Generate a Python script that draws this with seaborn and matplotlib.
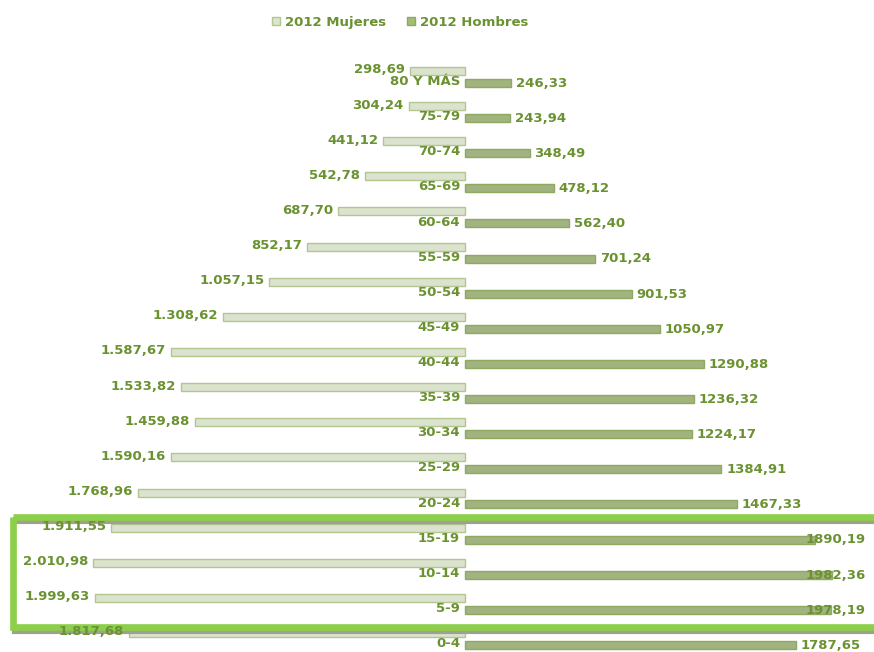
import pandas as pd
import numpy as np
import matplotlib
matplotlib.use('Agg')
import matplotlib.pyplot as plt
import matplotlib.patches as mpatches
import seaborn as sns

# Datos (miles de personas, 2012)
edades = ['80 Y MÁS', '75-79', '70-74', '65-69', '60-64', '55-59', '50-54', '45-49',
          '40-44', '35-39', '30-34', '25-29', '20-24', '15-19', '10-14', '5-9', '0-4']
mujeres = [298.69, 304.24, 441.12, 542.78, 687.70, 852.17, 1057.15, 1308.62,
           1587.67, 1533.82, 1459.88, 1590.16, 1768.96, 1911.55, 2010.98, 1999.63, 1817.68]
hombres = [246.33, 243.94, 348.49, 478.12, 562.40, 701.24, 901.53, 1050.97,
           1290.88, 1236.32, 1224.17, 1384.91, 1467.33, 1890.19, 1982.36, 1978.19, 1787.65]
series = ['2012 Mujeres', '2012 Hombres']
resaltadas = ['15-19', '10-14', '5-9']

# Tabla larga para seaborn (mujeres a la izquierda)
df = pd.DataFrame({
    'edad': edades * 2,
    'valor': [-v for v in mujeres] + hombres,
    'sexo': [series[0]] * len(edades) + [series[1]] * len(edades),
})

sns.set_theme(style='white')
plt.rcParams['font.family'] = ['DejaVu Sans']

verde_texto = '#6a9230'
col_muj = '#dce6cc'
col_hom = '#a4bc76'

fig = plt.figure(figsize=(8.74, 6.52), dpi=100)
ax = fig.add_axes([0, 0, 1, 1])

sns.barplot(data=df, x='valor', y='edad', hue='sexo', order=edades, hue_order=series,
            orient='h', palette=[col_muj, col_hom], width=0.68, gap=0.33,
            linewidth=1, edgecolor='#b2c690', legend=False, ax=ax)
n = len(edades)
for p in ax.patches[n:]:
    p.set_edgecolor('#8fa862')

ax.set_xlim(-2513, 2210)
ax.set_ylim(16.37, -2.19)
ax.set_axis_off()

for i, (m, h) in enumerate(zip(mujeres, hombres)):
    # etiqueta de edad
    ax.text(-27, i + 0.13, edades[i], ha='right', va='center', fontsize=9.5,
            fontweight='bold', color=verde_texto, zorder=7)
    # valor mujeres
    txt_m = f"{m:,.2f}".replace(',', 'X').replace('.', ',').replace('X', '.')
    ax.text(-m - 27, i - 0.2, txt_m, ha='right', va='center', fontsize=9.5,
            fontweight='bold', color=verde_texto, zorder=7)
    # valor hombres
    txt_h = f"{h:.2f}".replace('.', ',')
    ax.text(min(h + 27, 1838), i + 0.18, txt_h, ha='left', va='center', fontsize=9.5,
            fontweight='bold', color=verde_texto, zorder=7)

# recuadro verde de resalte
i0 = edades.index(resaltadas[0])
i1 = edades.index(resaltadas[-1])
y_top = i0 - 0.47
y_bot = i1 + 0.66
sombra = mpatches.Rectangle((-2440, y_top + 0.13), 4800, y_bot - y_top, fill=False,
                            edgecolor='#a0a090', linewidth=3, zorder=4)
ax.add_patch(sombra)
marco = mpatches.Rectangle((-2445, y_top), 4800, y_bot - y_top, fill=False,
                           edgecolor='#8ccf4a', linewidth=4.8, zorder=5)
ax.add_patch(marco)

# leyenda
handles = [mpatches.Patch(facecolor=col_muj, edgecolor='#b2c690', label=series[0]),
           mpatches.Patch(facecolor=col_hom, edgecolor='#8fa862', label=series[1])]
leg = fig.legend(handles=handles, loc='center', bbox_to_anchor=(0.458, 0.966), ncol=2,
                 frameon=False, fontsize=9.5, handlelength=0.6, handleheight=0.6,
                 handletextpad=0.4, columnspacing=1.6)
for t in leg.get_texts():
    t.set_color(verde_texto)
    t.set_fontweight('bold')

fig.savefig('out.png', dpi=100)
